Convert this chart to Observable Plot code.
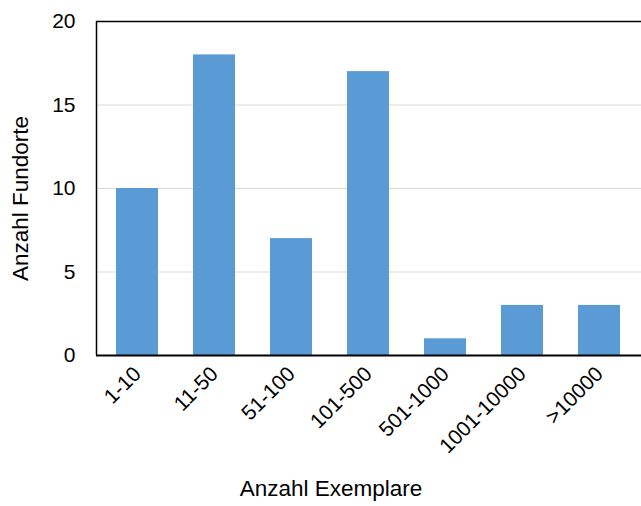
<!DOCTYPE html>
<html><head><meta charset="utf-8">
<script src="https://cdn.jsdelivr.net/npm/d3@7"></script>
<script src="https://cdn.jsdelivr.net/npm/@observablehq/plot@0.6"></script>
<style>body{margin:0;background:#fff}</style>
</head><body><div id="chart"></div>
<script>
const categories = ["1-10","11-50","51-100","101-500","501-1000","1001-10000",">10000"];
const values = [10,18,7,17,1,3,3];
const yTicks = [0,5,10,15,20];
const gridTicks = [5,10,15];
const data = categories.map((c,i)=>({cat:c, value:values[i]}));

const chart = Plot.plot({
  width: 641, height: 506,
  marginLeft: 96, marginRight: 0, marginTop: 21, marginBottom: 151,
  style: {fontFamily: "Liberation Sans, Arial, sans-serif", fontSize: "21px", color: "#000", background: "#fff"},
  x: {domain: categories, paddingInner: 0.45, paddingOuter: 0.225, label: null},
  y: {domain: [0,20], label: null},
  marks: [
    Plot.ruleY(gridTicks, {stroke: "#d9d9d9", strokeWidth: 1}),
    Plot.barY(data, {x: "cat", y: "value", fill: "#5b9bd5"}),
    Plot.ruleY([20], {stroke: "#000", strokeWidth: 1.5}),
    Plot.ruleY([0], {stroke: "#000", strokeWidth: 2}),
    Plot.axisY({ticks: yTicks, tickSize: 0, tickPadding: 21, label: null}),
    Plot.axisX({tickSize: 0, tickRotate: -45, tickPadding: 15, label: null}),
    Plot.text(["Anzahl Exemplare"], {frameAnchor: "bottom", dx: -38, dy: 140, text: d => d, className: "ttl"}),
    Plot.text(["Anzahl Fundorte"], {frameAnchor: "left", textAnchor: "middle", dx: -76, dy: 10, rotate: -90, text: d => d, className: "ttl"})
  ]
});
const svg = d3.select(chart);
svg.selectAll("g").attr("font-size", null);
svg.selectAll("text").attr("font-size", "21px").style("font-size", "21px");
svg.selectAll(".ttl text").attr("font-size", "22.5px").style("font-size", "22.5px");
svg.append("line").attr("x1",96.5).attr("x2",96.5).attr("y1",21).attr("y2",355).attr("stroke","#000").attr("stroke-width",1.5);
document.getElementById("chart").append(chart);
</script></body></html>
